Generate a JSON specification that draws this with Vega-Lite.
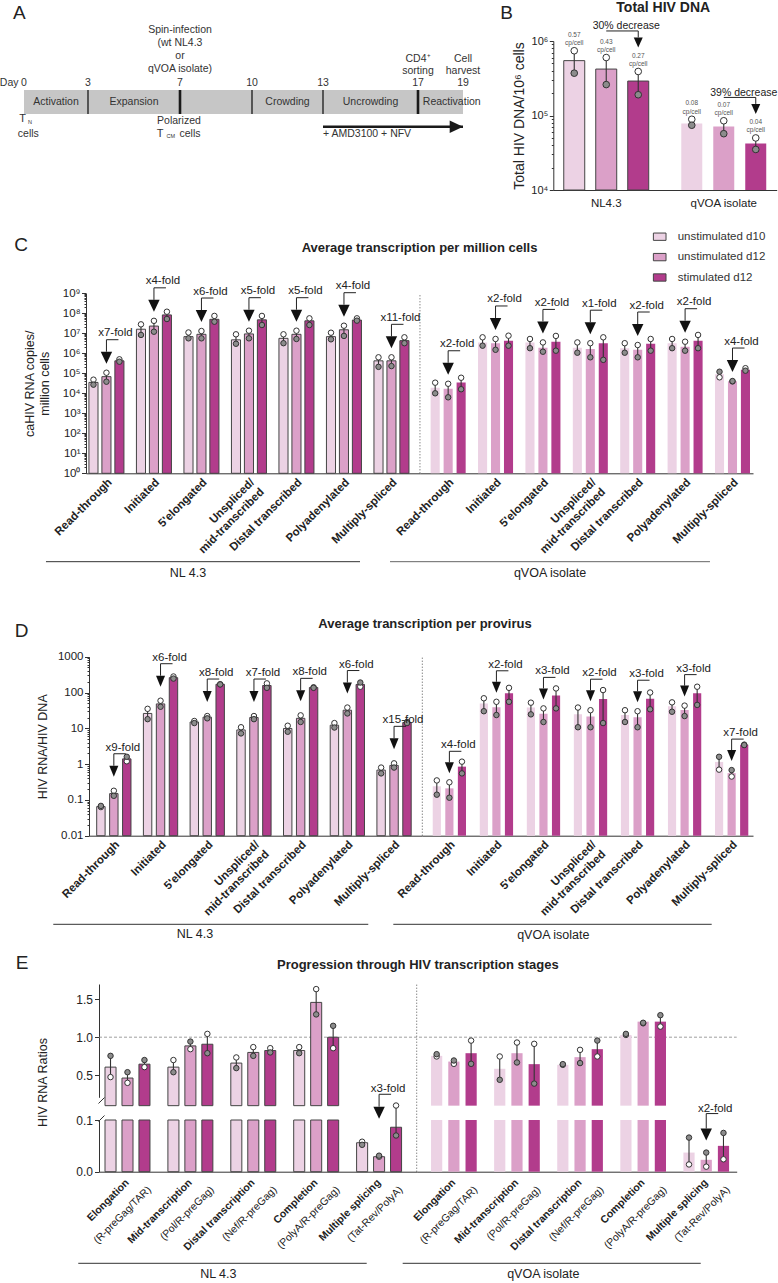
{
"$schema":"https://vega.github.io/schema/vega-lite/v6.json",
"width":778,"height":1283,"autosize":{"type":"none"},"padding":0,"background":"#ffffff",
"config":{"font":"Liberation Sans","view":{"stroke":null},"axis":{"grid":false,"labelFont":"Liberation Sans","titleFont":"Liberation Sans","domainColor":"#333333","tickColor":"#333333","labelColor":"#222222","titleColor":"#222222"},"legend":{"labelFont":"Liberation Sans"}},
"resolve":{"scale":{"x":"independent","y":"independent","xOffset":"independent"}},
"datasets":{
"b":[
{"iso":"NL4.3","cond":"unstimulated d10","m":545000,"d1":740000,"d2":370000,"lab":"0.57\ncp/cell"},
{"iso":"NL4.3","cond":"unstimulated d12","m":420000,"d1":600000,"d2":260000,"lab":"0.43\ncp/cell"},
{"iso":"NL4.3","cond":"stimulated d12","m":290000,"d1":390000,"d2":190000,"lab":"0.27\ncp/cell","f":"30% decrease"},
{"iso":"qVOA isolate","cond":"unstimulated d10","m":78000,"d1":89000,"d2":74000,"lab":"0.08\ncp/cell"},
{"iso":"qVOA isolate","cond":"unstimulated d12","m":71000,"d1":85000,"d2":57000,"lab":"0.07\ncp/cell"},
{"iso":"qVOA isolate","cond":"stimulated d12","m":42000,"d1":50000,"d2":35000,"lab":"0.04\ncp/cell","f":"39% decrease"}
],
"c":[
{"iso":"NL","cat":"Read-through","cond":"unstimulated d10","m":35000,"d1":48000,"d2":27000},
{"iso":"NL","cat":"Read-through","cond":"unstimulated d12","m":68000,"d1":107000,"d2":38000,"f":"x7-fold"},
{"iso":"NL","cat":"Read-through","cond":"stimulated d12","m":420000,"d1":500000,"d2":380000},
{"iso":"NL","cat":"Initiated","cond":"unstimulated d10","m":16000000,"d1":28000000,"d2":8300000},
{"iso":"NL","cat":"Initiated","cond":"unstimulated d12","m":23000000,"d1":42000000,"d2":12000000,"f":"x4-fold"},
{"iso":"NL","cat":"Initiated","cond":"stimulated d12","m":83000000,"d1":120000000,"d2":52000000},
{"iso":"NL","cat":"5'elongated","cond":"unstimulated d10","m":6800000,"d1":11000000,"d2":5600000},
{"iso":"NL","cat":"5'elongated","cond":"unstimulated d12","m":8900000,"d1":13000000,"d2":5600000,"f":"x6-fold"},
{"iso":"NL","cat":"5'elongated","cond":"stimulated d12","m":50000000,"d1":74000000,"d2":38000000},
{"iso":"NL","cat":"Unspliced/mid-transcribed","cond":"unstimulated d10","m":4700000,"d1":8900000,"d2":3000000},
{"iso":"NL","cat":"Unspliced/mid-transcribed","cond":"unstimulated d12","m":9300000,"d1":13500000,"d2":5600000,"f":"x5-fold"},
{"iso":"NL","cat":"Unspliced/mid-transcribed","cond":"stimulated d12","m":47000000,"d1":74000000,"d2":26000000},
{"iso":"NL","cat":"Distal transcribed","cond":"unstimulated d10","m":5600000,"d1":8900000,"d2":3200000},
{"iso":"NL","cat":"Distal transcribed","cond":"unstimulated d12","m":8900000,"d1":13500000,"d2":5200000,"f":"x5-fold"},
{"iso":"NL","cat":"Distal transcribed","cond":"stimulated d12","m":42000000,"d1":56000000,"d2":26000000},
{"iso":"NL","cat":"Polyadenylated","cond":"unstimulated d10","m":6800000,"d1":10700000,"d2":5000000},
{"iso":"NL","cat":"Polyadenylated","cond":"unstimulated d12","m":15000000,"d1":24000000,"d2":7400000,"f":"x4-fold"},
{"iso":"NL","cat":"Polyadenylated","cond":"stimulated d12","m":46000000,"d1":56000000,"d2":43000000},
{"iso":"NL","cat":"Multiply-spliced","cond":"unstimulated d10","m":420000,"d1":630000,"d2":210000},
{"iso":"NL","cat":"Multiply-spliced","cond":"unstimulated d12","m":420000,"d1":630000,"d2":230000,"f":"x11-fold"},
{"iso":"NL","cat":"Multiply-spliced","cond":"stimulated d12","m":4300000,"d1":6300000,"d2":3200000},
{"iso":"qVOA","cat":"Read-through","cond":"unstimulated d10","m":19000,"d1":34000,"d2":10000},
{"iso":"qVOA","cat":"Read-through","cond":"unstimulated d12","m":17000,"d1":30000,"d2":6300,"f":"x2-fold"},
{"iso":"qVOA","cat":"Read-through","cond":"stimulated d12","m":35000,"d1":60000,"d2":16000},
{"iso":"qVOA","cat":"Initiated","cond":"unstimulated d10","m":3500000,"d1":6300000,"d2":2400000},
{"iso":"qVOA","cat":"Initiated","cond":"unstimulated d12","m":3200000,"d1":5200000,"d2":1500000,"f":"x2-fold"},
{"iso":"qVOA","cat":"Initiated","cond":"stimulated d12","m":4300000,"d1":7600000,"d2":2400000},
{"iso":"qVOA","cat":"5'elongated","cond":"unstimulated d10","m":3500000,"d1":5200000,"d2":1800000},
{"iso":"qVOA","cat":"5'elongated","cond":"unstimulated d12","m":1900000,"d1":3500000,"d2":1200000,"f":"x2-fold"},
{"iso":"qVOA","cat":"5'elongated","cond":"stimulated d12","m":3800000,"d1":7400000,"d2":1350000},
{"iso":"qVOA","cat":"Unspliced/mid-transcribed","cond":"unstimulated d10","m":1900000,"d1":3500000,"d2":1070000},
{"iso":"qVOA","cat":"Unspliced/mid-transcribed","cond":"unstimulated d12","m":1660000,"d1":3200000,"d2":630000,"f":"x1-fold"},
{"iso":"qVOA","cat":"Unspliced/mid-transcribed","cond":"stimulated d12","m":3200000,"d1":6300000,"d2":470000},
{"iso":"qVOA","cat":"Distal transcribed","cond":"unstimulated d10","m":1800000,"d1":3200000,"d2":1070000},
{"iso":"qVOA","cat":"Distal transcribed","cond":"unstimulated d12","m":1500000,"d1":2600000,"d2":630000,"f":"x2-fold"},
{"iso":"qVOA","cat":"Distal transcribed","cond":"stimulated d12","m":3000000,"d1":5200000,"d2":1350000},
{"iso":"qVOA","cat":"Polyadenylated","cond":"unstimulated d10","m":3200000,"d1":5200000,"d2":1800000},
{"iso":"qVOA","cat":"Polyadenylated","cond":"unstimulated d12","m":2100000,"d1":3800000,"d2":1350000,"f":"x2-fold"},
{"iso":"qVOA","cat":"Polyadenylated","cond":"stimulated d12","m":4300000,"d1":8300000,"d2":1800000},
{"iso":"qVOA","cat":"Multiply-spliced","cond":"unstimulated d10","m":90000,"d1":63000,"d2":120000},
{"iso":"qVOA","cat":"Multiply-spliced","cond":"unstimulated d12","m":40000,"d1":39000,"d2":41000,"f":"x4-fold"},
{"iso":"qVOA","cat":"Multiply-spliced","cond":"stimulated d12","m":150000,"d1":180000,"d2":135000}
],
"d":[
{"iso":"NL","cat":"Read-through","cond":"unstimulated d10","m":0.065,"d1":0.063,"d2":0.068},
{"iso":"NL","cat":"Read-through","cond":"unstimulated d12","m":0.15,"d1":0.18,"d2":0.13,"f":"x9-fold"},
{"iso":"NL","cat":"Read-through","cond":"stimulated d12","m":1.4,"d1":1.2,"d2":1.6},
{"iso":"NL","cat":"Initiated","cond":"unstimulated d10","m":26,"d1":35,"d2":18},
{"iso":"NL","cat":"Initiated","cond":"unstimulated d12","m":48,"d1":59,"d2":40,"f":"x6-fold"},
{"iso":"NL","cat":"Initiated","cond":"stimulated d12","m":260,"d1":280,"d2":245},
{"iso":"NL","cat":"5'elongated","cond":"unstimulated d10","m":15,"d1":16,"d2":14},
{"iso":"NL","cat":"5'elongated","cond":"unstimulated d12","m":20.5,"d1":22,"d2":19,"f":"x8-fold"},
{"iso":"NL","cat":"5'elongated","cond":"stimulated d12","m":170,"d1":170,"d2":168},
{"iso":"NL","cat":"Unspliced/mid-transcribed","cond":"unstimulated d10","m":9,"d1":10.7,"d2":7.2},
{"iso":"NL","cat":"Unspliced/mid-transcribed","cond":"unstimulated d12","m":20,"d1":22,"d2":18,"f":"x7-fold"},
{"iso":"NL","cat":"Unspliced/mid-transcribed","cond":"stimulated d12","m":157,"d1":180,"d2":135},
{"iso":"NL","cat":"Distal transcribed","cond":"unstimulated d10","m":9.9,"d1":11.8,"d2":8},
{"iso":"NL","cat":"Distal transcribed","cond":"unstimulated d12","m":19,"d1":23,"d2":15,"f":"x8-fold"},
{"iso":"NL","cat":"Distal transcribed","cond":"stimulated d12","m":138,"d1":140,"d2":135},
{"iso":"NL","cat":"Polyadenylated","cond":"unstimulated d10","m":12.2,"d1":14,"d2":10.5},
{"iso":"NL","cat":"Polyadenylated","cond":"unstimulated d12","m":32,"d1":38,"d2":26,"f":"x6-fold"},
{"iso":"NL","cat":"Polyadenylated","cond":"stimulated d12","m":168,"d1":145,"d2":190},
{"iso":"NL","cat":"Multiply-spliced","cond":"unstimulated d10","m":0.68,"d1":0.8,"d2":0.55},
{"iso":"NL","cat":"Multiply-spliced","cond":"unstimulated d12","m":0.92,"d1":1.05,"d2":0.8,"f":"x15-fold"},
{"iso":"NL","cat":"Multiply-spliced","cond":"stimulated d12","m":14.5,"d1":15,"d2":14},
{"iso":"qVOA","cat":"Read-through","cond":"unstimulated d10","m":0.24,"d1":0.35,"d2":0.14},
{"iso":"qVOA","cat":"Read-through","cond":"unstimulated d12","m":0.21,"d1":0.31,"d2":0.115,"f":"x4-fold"},
{"iso":"qVOA","cat":"Read-through","cond":"stimulated d12","m":0.85,"d1":1.17,"d2":0.55},
{"iso":"qVOA","cat":"Initiated","cond":"unstimulated d10","m":49,"d1":69,"d2":30},
{"iso":"qVOA","cat":"Initiated","cond":"unstimulated d12","m":39,"d1":55,"d2":23.5,"f":"x2-fold"},
{"iso":"qVOA","cat":"Initiated","cond":"stimulated d12","m":95,"d1":135,"d2":55},
{"iso":"qVOA","cat":"5'elongated","cond":"unstimulated d10","m":38,"d1":52,"d2":24.5},
{"iso":"qVOA","cat":"5'elongated","cond":"unstimulated d12","m":25.5,"d1":36,"d2":15,"f":"x3-fold"},
{"iso":"qVOA","cat":"5'elongated","cond":"stimulated d12","m":83,"d1":130,"d2":36},
{"iso":"qVOA","cat":"Unspliced/mid-transcribed","cond":"unstimulated d10","m":24.5,"d1":38,"d2":10.7},
{"iso":"qVOA","cat":"Unspliced/mid-transcribed","cond":"unstimulated d12","m":21.5,"d1":32,"d2":10.7,"f":"x2-fold"},
{"iso":"qVOA","cat":"Unspliced/mid-transcribed","cond":"stimulated d12","m":66,"d1":117,"d2":14},
{"iso":"qVOA","cat":"Distal transcribed","cond":"unstimulated d10","m":23.5,"d1":32,"d2":15},
{"iso":"qVOA","cat":"Distal transcribed","cond":"unstimulated d12","m":20.5,"d1":30,"d2":10.7,"f":"x3-fold"},
{"iso":"qVOA","cat":"Distal transcribed","cond":"stimulated d12","m":67,"d1":100,"d2":34},
{"iso":"qVOA","cat":"Polyadenylated","cond":"unstimulated d10","m":41,"d1":53,"d2":29},
{"iso":"qVOA","cat":"Polyadenylated","cond":"unstimulated d12","m":32.5,"d1":43,"d2":22,"f":"x3-fold"},
{"iso":"qVOA","cat":"Polyadenylated","cond":"stimulated d12","m":95,"d1":145,"d2":45},
{"iso":"qVOA","cat":"Multiply-spliced","cond":"unstimulated d10","m":1.15,"d1":0.7,"d2":1.6},
{"iso":"qVOA","cat":"Multiply-spliced","cond":"unstimulated d12","m":0.56,"d1":0.45,"d2":0.68,"f":"x7-fold"},
{"iso":"qVOA","cat":"Multiply-spliced","cond":"stimulated d12","m":3.45,"d1":3.5,"d2":3.4}
],
"e":[
{"iso":"NL","cat":"Elongation","cond":"unstimulated d10","m":0.607,"d1":0.476,"d2":0.755},
{"iso":"NL","cat":"Elongation","cond":"unstimulated d12","m":0.463,"d1":0.4,"d2":0.54},
{"iso":"NL","cat":"Elongation","cond":"stimulated d12","m":0.646,"d1":0.607,"d2":0.7},
{"iso":"NL","cat":"Mid-transcription","cond":"unstimulated d10","m":0.607,"d1":0.7,"d2":0.54},
{"iso":"NL","cat":"Mid-transcription","cond":"unstimulated d12","m":0.886,"d1":0.843,"d2":0.943},
{"iso":"NL","cat":"Mid-transcription","cond":"stimulated d12","m":0.908,"d1":1.044,"d2":0.79},
{"iso":"NL","cat":"Distal transcription","cond":"unstimulated d10","m":0.66,"d1":0.734,"d2":0.594},
{"iso":"NL","cat":"Distal transcription","cond":"unstimulated d12","m":0.8,"d1":0.87,"d2":0.755},
{"iso":"NL","cat":"Distal transcription","cond":"stimulated d12","m":0.825,"d1":0.856,"d2":0.8},
{"iso":"NL","cat":"Completion","cond":"unstimulated d10","m":0.825,"d1":0.87,"d2":0.79},
{"iso":"NL","cat":"Completion","cond":"unstimulated d12","m":1.458,"d1":1.633,"d2":1.3},
{"iso":"NL","cat":"Completion","cond":"stimulated d12","m":1.0,"d1":0.856,"d2":1.15},
{"iso":"NL","cat":"Multiple splicing","cond":"unstimulated d10","m":0.056,"d1":0.058,"d2":0.052},
{"iso":"NL","cat":"Multiple splicing","cond":"unstimulated d12","m":0.029,"d1":0.029,"d2":0.031,"f":"x3-fold"},
{"iso":"NL","cat":"Multiple splicing","cond":"stimulated d12","m":0.086,"d1":0.128,"d2":0.07},
{"iso":"qVOA","cat":"Elongation","cond":"unstimulated d10","m":0.755,"d1":0.747,"d2":0.777},
{"iso":"qVOA","cat":"Elongation","cond":"unstimulated d12","m":0.68,"d1":0.65,"d2":0.694},
{"iso":"qVOA","cat":"Elongation","cond":"stimulated d12","m":0.79,"d1":0.956,"d2":0.65},
{"iso":"qVOA","cat":"Mid-transcription","cond":"unstimulated d10","m":0.585,"d1":0.747,"d2":0.44},
{"iso":"qVOA","cat":"Mid-transcription","cond":"unstimulated d12","m":0.79,"d1":0.93,"d2":0.668},
{"iso":"qVOA","cat":"Mid-transcription","cond":"stimulated d12","m":0.646,"d1":0.913,"d2":0.39},
{"iso":"qVOA","cat":"Distal transcription","cond":"unstimulated d10","m":0.637,"d1":0.637,"d2":0.646},
{"iso":"qVOA","cat":"Distal transcription","cond":"unstimulated d12","m":0.738,"d1":0.834,"d2":0.66},
{"iso":"qVOA","cat":"Distal transcription","cond":"stimulated d12","m":0.843,"d1":0.747,"d2":0.956},
{"iso":"qVOA","cat":"Completion","cond":"unstimulated d10","m":1.03,"d1":1.03,"d2":1.044},
{"iso":"qVOA","cat":"Completion","cond":"unstimulated d12","m":1.205,"d1":1.183,"d2":1.19},
{"iso":"qVOA","cat":"Completion","cond":"stimulated d12","m":1.205,"d1":1.14,"d2":1.29},
{"iso":"qVOA","cat":"Multiple splicing","cond":"unstimulated d10","m":0.037,"d1":0.014,"d2":0.066},
{"iso":"qVOA","cat":"Multiple splicing","cond":"unstimulated d12","m":0.023,"d1":0.0097,"d2":0.037,"f":"x2-fold"},
{"iso":"qVOA","cat":"Multiple splicing","cond":"stimulated d12","m":0.05,"d1":0.024,"d2":0.075}
]
},
"layer":[
{"layer":[
 {"data":{"values":[{"phase":"Activation","start":0,"end":3,"mid":1.5},{"phase":"Expansion","start":3,"end":7,"mid":5},{"phase":"","start":7,"end":10,"mid":8.5},{"phase":"Crowding","start":10,"end":13,"mid":11.5},{"phase":"Uncrowding","start":13,"end":17,"mid":15},{"phase":"Reactivation","start":17,"end":19,"mid":18.5}]},
  "layer":[
   {"mark":{"type":"rect","fill":"#c6c6c6"},"encoding":{"x":{"field":"start","type":"quantitative","scale":{"type":"linear","domain":[0,3,7,10,13,17,19],"range":[24,88,180,252,323,418,463],"nice":false,"zero":false},"axis":null},"x2":{"field":"end"},"y":{"datum":6,"type":"quantitative","scale":{"type":"linear","domain":[0,10],"range":[0,150],"nice":false,"zero":false},"axis":null},"y2":{"datum":7.6}}},
   {"transform":[{"filter":"datum.start > 0"}],"mark":{"type":"rule","color":"#1a1a1a"},"encoding":{"x":{"field":"start","type":"quantitative","scale":{"type":"linear","domain":[0,3,7,10,13,17,19],"range":[24,88,180,252,323,418,463],"nice":false,"zero":false},"axis":null},"y":{"datum":6,"type":"quantitative","scale":{"type":"linear","domain":[0,10],"range":[0,150],"nice":false,"zero":false},"axis":null},"y2":{"datum":7.6},"strokeWidth":{"condition":{"test":"datum.start == 7 || datum.start == 17","value":2.6},"value":1.3}}},
   {"mark":{"type":"text","fontSize":10.5,"color":"#333333","baseline":"middle"},"encoding":{"x":{"field":"mid","type":"quantitative","scale":{"type":"linear","domain":[0,3,7,10,13,17,19],"range":[24,88,180,252,323,418,463],"nice":false,"zero":false},"axis":null},"y":{"datum":6.82,"type":"quantitative","scale":{"type":"linear","domain":[0,10],"range":[0,150],"nice":false,"zero":false},"axis":null},"text":{"field":"phase"}}}
  ]},
 {"data":{"values":[{"day":0},{"day":3},{"day":7},{"day":10},{"day":13},{"day":17},{"day":19}]},"mark":{"type":"text","fontSize":10.5,"color":"#333333","baseline":"middle"},"encoding":{"x":{"field":"day","type":"quantitative","scale":{"type":"linear","domain":[0,3,7,10,13,17,19],"range":[24,88,180,252,323,418,463],"nice":false,"zero":false},"axis":null},"y":{"datum":5.555,"type":"quantitative","scale":{"type":"linear","domain":[0,10],"range":[0,150],"nice":false,"zero":false},"axis":null},"text":{"field":"day","type":"quantitative"}}},
 {"data":{"values":[{"t":"Day","day":0}]},"mark":{"type":"text","fontSize":10.5,"color":"#333333","baseline":"middle","align":"right","dx":-5.5},"encoding":{"x":{"field":"day","type":"quantitative","scale":{"type":"linear","domain":[0,3,7,10,13,17,19],"range":[24,88,180,252,323,418,463],"nice":false,"zero":false},"axis":null},"y":{"datum":5.555,"type":"quantitative","scale":{"type":"linear","domain":[0,10],"range":[0,150],"nice":false,"zero":false},"axis":null},"text":{"field":"t"}}},
 {"data":{"values":[{"day":7,"t":"Spin-infection\n(wt NL4.3\nor\nqVOA isolate)"}]},"mark":{"type":"text","fontSize":10.5,"color":"#333333","baseline":"top","lineBreak":"\n","lineHeight":13.1},"encoding":{"x":{"field":"day","type":"quantitative","scale":{"type":"linear","domain":[0,3,7,10,13,17,19],"range":[24,88,180,252,323,418,463],"nice":false,"zero":false},"axis":null},"y":{"datum":1.66,"type":"quantitative","scale":{"type":"linear","domain":[0,10],"range":[0,150],"nice":false,"zero":false},"axis":null},"text":{"field":"t"}}},
 {"data":{"values":[{"day":17,"t":"CD4⁺\nsorting"},{"day":19,"t":"Cell\nharvest"}]},"mark":{"type":"text","fontSize":10.5,"color":"#333333","baseline":"top","lineBreak":"\n","lineHeight":12.8},"encoding":{"x":{"field":"day","type":"quantitative","scale":{"type":"linear","domain":[0,3,7,10,13,17,19],"range":[24,88,180,252,323,418,463],"nice":false,"zero":false},"axis":null},"y":{"datum":3.58,"type":"quantitative","scale":{"type":"linear","domain":[0,10],"range":[0,150],"nice":false,"zero":false},"axis":null},"text":{"field":"t"}}},
 {"data":{"values":[{"day":0,"t":"T"}]},"mark":{"type":"text","fontSize":11,"color":"#333333","baseline":"middle","dx":-1.5},"encoding":{"x":{"field":"day","type":"quantitative","scale":{"type":"linear","domain":[0,3,7,10,13,17,19],"range":[24,88,180,252,323,418,463],"nice":false,"zero":false},"axis":null},"y":{"datum":7.93,"type":"quantitative","scale":{"type":"linear","domain":[0,10],"range":[0,150],"nice":false,"zero":false},"axis":null},"text":{"field":"t"}}},
 {"data":{"values":[{"day":0,"t":"N"}]},"mark":{"type":"text","fontSize":5.5,"color":"#333333","baseline":"middle","dx":6},"encoding":{"x":{"field":"day","type":"quantitative","scale":{"type":"linear","domain":[0,3,7,10,13,17,19],"range":[24,88,180,252,323,418,463],"nice":false,"zero":false},"axis":null},"y":{"datum":8.1,"type":"quantitative","scale":{"type":"linear","domain":[0,10],"range":[0,150],"nice":false,"zero":false},"axis":null},"text":{"field":"t"}}},
 {"data":{"values":[{"day":0,"t":"cells"}]},"mark":{"type":"text","fontSize":10.5,"color":"#333333","baseline":"middle","dx":4.3},"encoding":{"x":{"field":"day","type":"quantitative","scale":{"type":"linear","domain":[0,3,7,10,13,17,19],"range":[24,88,180,252,323,418,463],"nice":false,"zero":false},"axis":null},"y":{"datum":8.93,"type":"quantitative","scale":{"type":"linear","domain":[0,10],"range":[0,150],"nice":false,"zero":false},"axis":null},"text":{"field":"t"}}},
 {"data":{"values":[{"day":7,"t":"Polarized"}]},"mark":{"type":"text","fontSize":10.5,"color":"#333333","baseline":"middle","dx":-1},"encoding":{"x":{"field":"day","type":"quantitative","scale":{"type":"linear","domain":[0,3,7,10,13,17,19],"range":[24,88,180,252,323,418,463],"nice":false,"zero":false},"axis":null},"y":{"datum":8.07,"type":"quantitative","scale":{"type":"linear","domain":[0,10],"range":[0,150],"nice":false,"zero":false},"axis":null},"text":{"field":"t"}}},
 {"data":{"values":[{"day":7,"t":"T"}]},"mark":{"type":"text","fontSize":11,"color":"#333333","baseline":"middle","dx":-20},"encoding":{"x":{"field":"day","type":"quantitative","scale":{"type":"linear","domain":[0,3,7,10,13,17,19],"range":[24,88,180,252,323,418,463],"nice":false,"zero":false},"axis":null},"y":{"datum":8.93,"type":"quantitative","scale":{"type":"linear","domain":[0,10],"range":[0,150],"nice":false,"zero":false},"axis":null},"text":{"field":"t"}}},
 {"data":{"values":[{"day":7,"t":"CM"}]},"mark":{"type":"text","fontSize":5.5,"color":"#333333","baseline":"middle","dx":-9.2,"dy":2},"encoding":{"x":{"field":"day","type":"quantitative","scale":{"type":"linear","domain":[0,3,7,10,13,17,19],"range":[24,88,180,252,323,418,463],"nice":false,"zero":false},"axis":null},"y":{"datum":8.93,"type":"quantitative","scale":{"type":"linear","domain":[0,10],"range":[0,150],"nice":false,"zero":false},"axis":null},"text":{"field":"t"}}},
 {"data":{"values":[{"day":7,"t":"cells"}]},"mark":{"type":"text","fontSize":10.5,"color":"#333333","baseline":"middle","dx":10},"encoding":{"x":{"field":"day","type":"quantitative","scale":{"type":"linear","domain":[0,3,7,10,13,17,19],"range":[24,88,180,252,323,418,463],"nice":false,"zero":false},"axis":null},"y":{"datum":8.93,"type":"quantitative","scale":{"type":"linear","domain":[0,10],"range":[0,150],"nice":false,"zero":false},"axis":null},"text":{"field":"t"}}},
 {"data":{"values":[{"day":13,"t":"+ AMD3100 + NFV"}]},"mark":{"type":"text","fontSize":10.5,"color":"#333333","baseline":"middle","align":"left"},"encoding":{"x":{"field":"day","type":"quantitative","scale":{"type":"linear","domain":[0,3,7,10,13,17,19],"range":[24,88,180,252,323,418,463],"nice":false,"zero":false},"axis":null},"y":{"datum":8.93,"type":"quantitative","scale":{"type":"linear","domain":[0,10],"range":[0,150],"nice":false,"zero":false},"axis":null},"text":{"field":"t"}}},
 {"data":{"values":[{"start":13,"end":19}]},"layer":[
  {"mark":{"type":"rule","color":"#1a1a1a","strokeWidth":2.4},"encoding":{"x":{"field":"start","type":"quantitative","scale":{"type":"linear","domain":[0,3,7,10,13,17,19],"range":[24,88,180,252,323,418,463],"nice":false,"zero":false},"axis":null},"x2":{"field":"end"},"y":{"datum":8.447,"type":"quantitative","scale":{"type":"linear","domain":[0,10],"range":[0,150],"nice":false,"zero":false},"axis":null}}},
  {"mark":{"type":"point","shape":"M-1,-0.95L1,0L-1,0.95Z","size":177,"filled":true,"color":"#1a1a1a","opacity":1,"xOffset":-6.65},"encoding":{"x":{"field":"end","type":"quantitative","scale":{"type":"linear","domain":[0,3,7,10,13,17,19],"range":[24,88,180,252,323,418,463],"nice":false,"zero":false},"axis":null},"y":{"datum":8.447,"type":"quantitative","scale":{"type":"linear","domain":[0,10],"range":[0,150],"nice":false,"zero":false},"axis":null}}}
 ]},
 {"data":{"values":[{"t":"A"}]},"mark":{"type":"text","fontSize":19,"color":"#222222","baseline":"middle"},"encoding":{"x":{"datum":-0.22,"type":"quantitative","scale":{"type":"linear","domain":[0,3,7,10,13,17,19],"range":[24,88,180,252,323,418,463],"nice":false,"zero":false},"axis":null},"y":{"datum":0.89,"type":"quantitative","scale":{"type":"linear","domain":[0,10],"range":[0,150],"nice":false,"zero":false},"axis":null},"text":{"field":"t"}}},
 {"data":{"values":[{"t":"B"}]},"mark":{"type":"text","fontSize":19,"color":"#222222","baseline":"middle"},"encoding":{"x":{"datum":20.94,"type":"quantitative","scale":{"type":"linear","domain":[0,3,7,10,13,17,19],"range":[24,88,180,252,323,418,463],"nice":false,"zero":false},"axis":null},"y":{"datum":0.86,"type":"quantitative","scale":{"type":"linear","domain":[0,10],"range":[0,150],"nice":false,"zero":false},"axis":null},"text":{"field":"t"}}},
 {"data":{"values":[{"t":"Total HIV DNA"}]},"mark":{"type":"text","fontSize":14,"fontWeight":"bold","color":"#222222","baseline":"middle"},"encoding":{"x":{"datum":27.9,"type":"quantitative","scale":{"type":"linear","domain":[0,3,7,10,13,17,19],"range":[24,88,180,252,323,418,463],"nice":false,"zero":false},"axis":null},"y":{"datum":0.56,"type":"quantitative","scale":{"type":"linear","domain":[0,10],"range":[0,150],"nice":false,"zero":false},"axis":null},"text":{"field":"t"}}}
]},
{"data":{"name":"b"},
 "layer":[
 {"transform":[{"filter":"datum.iso == 'NL4.3'"}],"mark":{"type":"bar","stroke":"#444444","strokeWidth":1},"encoding":{
   "x":{"field":"iso","type":"nominal","sort":null,"scale":{"type":"band","domain":["NL4.3","qVOA isolate"],"range":[553.3,776.7],"paddingInner":0.277,"paddingOuter":0.089},"axis":{"orient":"bottom","offset":-1093,"ticks":false,"tickSize":0,"labelPadding":7,"labelFontSize":11.5,"labelAngle":0,"labelBaseline":"top","labelAlign":"center","title":null,"domainColor":"#333333","labelColor":"#222222"}},
   "xOffset":{"field":"cond","type":"nominal","sort":null,"scale":{"type":"band","domain":["unstimulated d10","unstimulated d12","stimulated d12"],"paddingInner":0.344,"paddingOuter":0}},
   "y":{"field":"m","type":"quantitative","scale":{"type":"log","domain":[10000,1000000],"range":[190,41],"nice":false},"axis":{"orient":"left","offset":-553.3,"values":[10000,20000,30000,40000,50000,60000,70000,80000,90000,100000,200000,300000,400000,500000,600000,700000,800000,900000,1000000],"labelExpr":"abs(log(datum.value)/LN10 - round(log(datum.value)/LN10)) > 0.01 ? '' : '10' + ['⁰','¹','²','³','⁴','⁵','⁶','⁷','⁸','⁹'][round(log(datum.value)/LN10)]","tickSize":{"condition":{"test":"abs(log(datum.value)/LN10 - round(log(datum.value)/LN10)) > 0.01","value":2},"value":4},"labelPadding":1.5,"labelFontSize":11,"labelOverlap":false,"labelBound":false,"labelFlush":false,"title":"Total HIV DNA/10⁶ cells","titleFontSize":14,"titleFontWeight":"normal","titlePadding":4,"minExtent":23,"maxExtent":23}},
   "y2":{"datum":10000},
   "fill":{"field":"cond","type":"nominal","sort":null,"scale":{"domain":["unstimulated d10","unstimulated d12","stimulated d12"],"range":["#ecd2e4","#dba0c8","#b23c8c"]}}}},
 {"transform":[{"filter":"datum.iso != 'NL4.3'"}],"mark":{"type":"bar"},"encoding":{
   "x":{"field":"iso","type":"nominal","sort":null,"scale":{"type":"band","domain":["NL4.3","qVOA isolate"],"range":[553.3,776.7],"paddingInner":0.277,"paddingOuter":0.089}},
   "xOffset":{"field":"cond","type":"nominal","sort":null,"scale":{"type":"band","domain":["unstimulated d10","unstimulated d12","stimulated d12"],"paddingInner":0.344,"paddingOuter":0}},
   "y":{"field":"m","type":"quantitative","scale":{"type":"log","domain":[10000,1000000],"range":[190,41],"nice":false}},
   "y2":{"datum":10000},
   "fill":{"field":"cond","type":"nominal","sort":null,"scale":{"domain":["unstimulated d10","unstimulated d12","stimulated d12"],"range":["#ecd2e4","#dba0c8","#b23c8c"]}}}},
 {"mark":{"type":"rule","color":"#333333","strokeWidth":1.1},"encoding":{
   "x":{"field":"iso","type":"nominal","sort":null,"scale":{"type":"band","domain":["NL4.3","qVOA isolate"],"range":[553.3,776.7],"paddingInner":0.277,"paddingOuter":0.089}},
   "xOffset":{"field":"cond","type":"nominal","sort":null,"scale":{"type":"band","domain":["unstimulated d10","unstimulated d12","stimulated d12"],"paddingInner":0.344,"paddingOuter":0}},
   "y":{"field":"d1","type":"quantitative","scale":{"type":"log","domain":[10000,1000000],"range":[190,41],"nice":false}},"y2":{"field":"d2"}}},
 {"transform":[{"fold":["d1","d2"],"as":["donor","v"]}],"mark":{"type":"point","filled":true,"size":44,"stroke":"#333333","strokeWidth":1,"opacity":1},"encoding":{
   "x":{"field":"iso","type":"nominal","sort":null,"scale":{"type":"band","domain":["NL4.3","qVOA isolate"],"range":[553.3,776.7],"paddingInner":0.277,"paddingOuter":0.089}},
   "xOffset":{"field":"cond","type":"nominal","sort":null,"scale":{"type":"band","domain":["unstimulated d10","unstimulated d12","stimulated d12"],"paddingInner":0.344,"paddingOuter":0}},
   "y":{"field":"v","type":"quantitative","scale":{"type":"log","domain":[10000,1000000],"range":[190,41],"nice":false}},
   "fill":{"condition":{"test":"datum.donor == 'd1'","value":"#ffffff"},"value":"#8c8c8c"}}},
 {"transform":[{"fold":["d1","d2"],"as":["donor","v"]},{"aggregate":[{"op":"max","field":"v","as":"hi"}],"groupby":["iso","cond","lab"]}],"mark":{"type":"text","lineBreak":"\n","lineHeight":8.4,"fontSize":6.5,"color":"#555555","baseline":"bottom","dy":-12.9},"encoding":{
   "x":{"field":"iso","type":"nominal","sort":null,"scale":{"type":"band","domain":["NL4.3","qVOA isolate"],"range":[553.3,776.7],"paddingInner":0.277,"paddingOuter":0.089}},
   "xOffset":{"field":"cond","type":"nominal","sort":null,"scale":{"type":"band","domain":["unstimulated d10","unstimulated d12","stimulated d12"],"paddingInner":0.344,"paddingOuter":0}},
   "y":{"field":"hi","type":"quantitative","scale":{"type":"log","domain":[10000,1000000],"range":[190,41],"nice":false}},
   "text":{"field":"lab"}}},
 {"transform":[{"filter":"isValid(datum.f)"},{"fold":["d1","d2"],"as":["donor","v"]},{"aggregate":[{"op":"max","field":"v","as":"hi"}],"groupby":["iso","f"]}],
  "encoding":{"x":{"field":"iso","type":"nominal","sort":null,"scale":{"type":"band","domain":["NL4.3","qVOA isolate"],"range":[553.3,776.7],"paddingInner":0.277,"paddingOuter":0.089}},"y":{"field":"hi","type":"quantitative","scale":{"type":"log","domain":[10000,1000000],"range":[190,41],"nice":false}}},
  "layer":[
   {"mark":{"type":"text","dx":20,"dy":-42,"baseline":"alphabetic","fontSize":10.5,"color":"#222222"},"encoding":{"text":{"field":"f"}}},
   {"mark":{"type":"rule","x2Offset":32,"yOffset":-40.5,"color":"#222222","strokeWidth":1},"encoding":{"x2":{"field":"iso"}}},
   {"mark":{"type":"rule","xOffset":32,"yOffset":-40.5,"y2Offset":-34,"color":"#222222","strokeWidth":1},"encoding":{"y2":{"field":"hi"}}},
   {"mark":{"type":"point","shape":"M-0.9,-1L0.9,-1L0,1Z","size":100,"filled":true,"color":"#111111","opacity":1,"xOffset":32,"yOffset":-29},"encoding":{}}
  ]}
 ]},
{"layer":[
 {"data":{"values":[{"t":"C"}]},"mark":{"type":"text","fontSize":19,"color":"#222222","baseline":"middle","align":"center"},"encoding":{"x":{"datum":-9.745,"type":"quantitative","scale":{"type":"linear","domain":[0,100],"range":[86,753],"nice":false,"zero":false},"axis":null},"y":{"datum":126.6,"type":"quantitative","scale":{"type":"linear","domain":[0,100],"range":[473.3,293.3],"nice":false,"zero":false},"axis":null},"text":{"field":"t"}}},
 {"data":{"values":[{"t":"Average transcription per million cells"}]},"mark":{"type":"text","fontSize":13,"fontWeight":"bold","color":"#222222","baseline":"middle","align":"center"},"encoding":{"x":{"datum":50,"type":"quantitative","scale":{"type":"linear","domain":[0,100],"range":[86,753],"nice":false,"zero":false},"axis":null},"y":{"datum":125.0,"type":"quantitative","scale":{"type":"linear","domain":[0,100],"range":[473.3,293.3],"nice":false,"zero":false},"axis":null},"text":{"field":"t"}}},
 {"data":{"values":[{"t":"separator"}]},"mark":{"type":"rule","color":"#555555","strokeDash":[1,2],"strokeWidth":1},"encoding":{"x":{"datum":50.07,"type":"quantitative","scale":{"type":"linear","domain":[0,100],"range":[86,753],"nice":false,"zero":false},"axis":null},"y":{"datum":0,"type":"quantitative","scale":{"type":"linear","domain":[0,100],"range":[473.3,293.3],"nice":false,"zero":false},"axis":null},"y2":{"datum":100}}},
 {"data":{"values":[{"t":"NL 4.3"}]},"layer":[
  {"mark":{"type":"rule","color":"#333333","strokeWidth":1},"encoding":{"x":{"datum":-6.0,"type":"quantitative","scale":{"type":"linear","domain":[0,100],"range":[86,753],"nice":false,"zero":false},"axis":null},"x2":{"datum":41.08},"y":{"datum":-49.1,"type":"quantitative","scale":{"type":"linear","domain":[0,100],"range":[473.3,293.3],"nice":false,"zero":false},"axis":null}}},
  {"mark":{"type":"text","fontSize":12.5,"color":"#222222","baseline":"middle","align":"center"},"encoding":{"x":{"datum":15.29,"type":"quantitative","scale":{"type":"linear","domain":[0,100],"range":[86,753],"nice":false,"zero":false},"axis":null},"y":{"datum":-55.2,"type":"quantitative","scale":{"type":"linear","domain":[0,100],"range":[473.3,293.3],"nice":false,"zero":false},"axis":null},"text":{"field":"t"}}}
 ]},
 {"data":{"values":[{"t":"qVOA isolate"}]},"layer":[
  {"mark":{"type":"rule","color":"#666666","strokeWidth":1},"encoding":{"x":{"datum":45.58,"type":"quantitative","scale":{"type":"linear","domain":[0,100],"range":[86,753],"nice":false,"zero":false},"axis":null},"x2":{"datum":93.55},"y":{"datum":-49.1,"type":"quantitative","scale":{"type":"linear","domain":[0,100],"range":[473.3,293.3],"nice":false,"zero":false},"axis":null}}},
  {"mark":{"type":"text","fontSize":12.5,"color":"#222222","baseline":"middle","align":"center"},"encoding":{"x":{"datum":69.57,"type":"quantitative","scale":{"type":"linear","domain":[0,100],"range":[86,753],"nice":false,"zero":false},"axis":null},"y":{"datum":-55.4,"type":"quantitative","scale":{"type":"linear","domain":[0,100],"range":[473.3,293.3],"nice":false,"zero":false},"axis":null},"text":{"field":"t"}}}
 ]}
]},
{"data":{"name":"c"},"transform":[{"filter":"datum.iso == 'NL'"}],
 "layer":[
 {"mark":{"type":"bar","stroke":"#444444","strokeWidth":1},"encoding":{
   "x":{"field":"cat","type":"nominal","sort":null,"scale":{"type":"band","domain":["Read-through","Initiated","5'elongated","Unspliced/mid-transcribed","Distal transcribed","Polyadenylated","Multiply-spliced"],"range":[86,420],"paddingInner":0.263,"paddingOuter":0.147,"align":0.21},"axis":{"orient":"bottom","offset":-809.7,"ticks":false,"tickSize":0,"labelAngle":-45,"labelAlign":"right","labelBaseline":"middle","labelFontWeight":"bold","labelFontSize":11.5,"labelColor":"#222222","labelPadding":7,"labelOffset":4,"labelExpr":"datum.label == 'Unspliced/mid-transcribed' ? ['Unspliced/', 'mid-transcribed'] : datum.label","labelOverlap":false,"labelBound":false,"labelFlush":false,"labelLimit":0,"title":null,"domainColor":"#333333"}},
   "xOffset":{"field":"cond","type":"nominal","sort":null,"scale":{"type":"band","domain":["unstimulated d10","unstimulated d12","stimulated d12"],"paddingInner":0.3,"paddingOuter":0}},
   "y":{"field":"m","type":"quantitative","scale":{"type":"log","domain":[1,1000000000],"range":[473.3,293.3],"nice":false},"axis":{"orient":"left","offset":-86,"values":[1,2,3,4,5,6,7,8,9,10,20,30,40,50,60,70,80,90,100,200,300,400,500,600,700,800,900,1000,2000,3000,4000,5000,6000,7000,8000,9000,10000,20000,30000,40000,50000,60000,70000,80000,90000,100000,200000,300000,400000,500000,600000,700000,800000,900000,1e6,2e6,3e6,4e6,5e6,6e6,7e6,8e6,9e6,1e7,2e7,3e7,4e7,5e7,6e7,7e7,8e7,9e7,1e8,2e8,3e8,4e8,5e8,6e8,7e8,8e8,9e8,1e9],"labelExpr":"abs(log(datum.value)/LN10 - round(log(datum.value)/LN10)) > 0.01 ? '' : '10' + ['⁰','¹','²','³','⁴','⁵','⁶','⁷','⁸','⁹'][round(log(datum.value)/LN10)]","tickSize":{"condition":{"test":"abs(log(datum.value)/LN10 - round(log(datum.value)/LN10)) > 0.01","value":2},"value":4.5},"labelPadding":1.5,"labelFontSize":11.5,"labelOverlap":false,"labelBound":false,"labelFlush":false,"title":["caHIV RNA copies/","million cells"],"titleFontSize":12.5,"titleFontWeight":"normal","titleLineHeight":15,"titlePadding":4.5,"minExtent":30,"maxExtent":30}},
   "y2":{"datum":1},
   "fill":{"field":"cond","type":"nominal","sort":null,"scale":{"domain":["unstimulated d10","unstimulated d12","stimulated d12"],"range":["#ecd2e4","#dba0c8","#b23c8c"]},"legend":{"orient":"none","legendX":652.7,"legendY":229.7,"title":null,"direction":"vertical","symbolType":"M-1,-0.58H1V0.58H-1Z","symbolSize":160,"symbolStrokeColor":"#444444","symbolStrokeWidth":1,"symbolOpacity":1,"labelFontSize":11.5,"labelColor":"#333333","labelOffset":11,"rowPadding":7.4,"padding":0,"offset":0}}}},
 {"mark":{"type":"rule","color":"#333333","strokeWidth":1.1},"encoding":{
   "x":{"field":"cat","type":"nominal","sort":null,"scale":{"type":"band","domain":["Read-through","Initiated","5'elongated","Unspliced/mid-transcribed","Distal transcribed","Polyadenylated","Multiply-spliced"],"range":[86,420],"paddingInner":0.263,"paddingOuter":0.147,"align":0.21}},
   "xOffset":{"field":"cond","type":"nominal","sort":null,"scale":{"type":"band","domain":["unstimulated d10","unstimulated d12","stimulated d12"],"paddingInner":0.3,"paddingOuter":0}},
   "y":{"field":"d1","type":"quantitative","scale":{"type":"log","domain":[1,1000000000],"range":[473.3,293.3],"nice":false}},"y2":{"field":"d2"}}},
 {"transform":[{"fold":["d1","d2"],"as":["donor","v"]}],"mark":{"type":"point","filled":true,"size":30,"stroke":"#333333","strokeWidth":1,"opacity":1},"encoding":{
   "x":{"field":"cat","type":"nominal","sort":null,"scale":{"type":"band","domain":["Read-through","Initiated","5'elongated","Unspliced/mid-transcribed","Distal transcribed","Polyadenylated","Multiply-spliced"],"range":[86,420],"paddingInner":0.263,"paddingOuter":0.147,"align":0.21}},
   "xOffset":{"field":"cond","type":"nominal","sort":null,"scale":{"type":"band","domain":["unstimulated d10","unstimulated d12","stimulated d12"],"paddingInner":0.3,"paddingOuter":0}},
   "y":{"field":"v","type":"quantitative","scale":{"type":"log","domain":[1,1000000000],"range":[473.3,293.3],"nice":false}},
   "fill":{"condition":{"test":"datum.donor == 'd1'","value":"#ffffff"},"value":"#8c8c8c"}}},
 {"transform":[{"filter":"isValid(datum.f)"},{"fold":["d1","d2"],"as":["donor","v"]},{"aggregate":[{"op":"max","field":"v","as":"hi"}],"groupby":["cat","f"]}],
  "encoding":{"x":{"field":"cat","type":"nominal","sort":null,"scale":{"type":"band","domain":["Read-through","Initiated","5'elongated","Unspliced/mid-transcribed","Distal transcribed","Polyadenylated","Multiply-spliced"],"range":[86,420],"paddingInner":0.263,"paddingOuter":0.147,"align":0.21}},"y":{"field":"hi","type":"quantitative","scale":{"type":"log","domain":[1,1000000000],"range":[473.3,293.3],"nice":false}}},
  "layer":[
   {"mark":{"type":"text","dx":9,"dy":-36.5,"baseline":"alphabetic","fontSize":11.5,"color":"#222222"},"encoding":{"text":{"field":"f"}}},
   {"mark":{"type":"rule","x2Offset":12,"yOffset":-33,"color":"#222222","strokeWidth":1},"encoding":{"x2":{"field":"cat"}}},
   {"mark":{"type":"rule","yOffset":-33,"y2Offset":-21,"color":"#222222","strokeWidth":1},"encoding":{"y2":{"field":"hi"}}},
   {"mark":{"type":"point","shape":"M-0.95,-1L0.95,-1L0,1Z","size":144,"filled":true,"color":"#111111","opacity":1,"yOffset":-15},"encoding":{}}
  ]}
 ]},
{"data":{"name":"c"},"transform":[{"filter":"datum.iso == 'qVOA'"}],
 "layer":[
 {"mark":{"type":"bar"},"encoding":{
   "x":{"field":"cat","type":"nominal","sort":null,"scale":{"type":"band","domain":["Read-through","Initiated","5'elongated","Unspliced/mid-transcribed","Distal transcribed","Polyadenylated","Multiply-spliced"],"range":[420,753],"paddingInner":0.261,"paddingOuter":0.144,"align":0.78},"axis":{"orient":"bottom","offset":-809.7,"ticks":false,"tickSize":0,"labelAngle":-45,"labelAlign":"right","labelBaseline":"middle","labelFontWeight":"bold","labelFontSize":11.5,"labelColor":"#222222","labelPadding":7,"labelOffset":4,"labelExpr":"datum.label == 'Unspliced/mid-transcribed' ? ['Unspliced/', 'mid-transcribed'] : datum.label","labelOverlap":false,"labelBound":false,"labelFlush":false,"labelLimit":0,"title":null,"domainColor":"#333333"}},
   "xOffset":{"field":"cond","type":"nominal","sort":null,"scale":{"type":"band","domain":["unstimulated d10","unstimulated d12","stimulated d12"],"paddingInner":0.3,"paddingOuter":0}},
   "y":{"field":"m","type":"quantitative","scale":{"type":"log","domain":[1,1000000000],"range":[473.3,293.3],"nice":false},"axis":null},
   "y2":{"datum":1},
   "fill":{"field":"cond","type":"nominal","sort":null,"scale":{"domain":["unstimulated d10","unstimulated d12","stimulated d12"],"range":["#ecd2e4","#dba0c8","#b23c8c"]}}}},
 {"mark":{"type":"rule","color":"#333333","strokeWidth":1.1},"encoding":{
   "x":{"field":"cat","type":"nominal","sort":null,"scale":{"type":"band","domain":["Read-through","Initiated","5'elongated","Unspliced/mid-transcribed","Distal transcribed","Polyadenylated","Multiply-spliced"],"range":[420,753],"paddingInner":0.261,"paddingOuter":0.144,"align":0.78}},
   "xOffset":{"field":"cond","type":"nominal","sort":null,"scale":{"type":"band","domain":["unstimulated d10","unstimulated d12","stimulated d12"],"paddingInner":0.3,"paddingOuter":0}},
   "y":{"field":"d1","type":"quantitative","scale":{"type":"log","domain":[1,1000000000],"range":[473.3,293.3],"nice":false},"axis":null},"y2":{"field":"d2"}}},
 {"transform":[{"fold":["d1","d2"],"as":["donor","v"]}],"mark":{"type":"point","filled":true,"size":30,"stroke":"#333333","strokeWidth":1,"opacity":1},"encoding":{
   "x":{"field":"cat","type":"nominal","sort":null,"scale":{"type":"band","domain":["Read-through","Initiated","5'elongated","Unspliced/mid-transcribed","Distal transcribed","Polyadenylated","Multiply-spliced"],"range":[420,753],"paddingInner":0.261,"paddingOuter":0.144,"align":0.78}},
   "xOffset":{"field":"cond","type":"nominal","sort":null,"scale":{"type":"band","domain":["unstimulated d10","unstimulated d12","stimulated d12"],"paddingInner":0.3,"paddingOuter":0}},
   "y":{"field":"v","type":"quantitative","scale":{"type":"log","domain":[1,1000000000],"range":[473.3,293.3],"nice":false},"axis":null},
   "fill":{"condition":{"test":"datum.donor == 'd1'","value":"#ffffff"},"value":"#8c8c8c"}}},
 {"transform":[{"filter":"isValid(datum.f)"},{"fold":["d1","d2"],"as":["donor","v"]},{"aggregate":[{"op":"max","field":"v","as":"hi"}],"groupby":["cat","f"]}],
  "encoding":{"x":{"field":"cat","type":"nominal","sort":null,"scale":{"type":"band","domain":["Read-through","Initiated","5'elongated","Unspliced/mid-transcribed","Distal transcribed","Polyadenylated","Multiply-spliced"],"range":[420,753],"paddingInner":0.261,"paddingOuter":0.144,"align":0.78}},"y":{"field":"hi","type":"quantitative","scale":{"type":"log","domain":[1,1000000000],"range":[473.3,293.3],"nice":false},"axis":null}},
  "layer":[
   {"mark":{"type":"text","dx":9,"dy":-36.5,"baseline":"alphabetic","fontSize":11.5,"color":"#222222"},"encoding":{"text":{"field":"f"}}},
   {"mark":{"type":"rule","x2Offset":12,"yOffset":-33,"color":"#222222","strokeWidth":1},"encoding":{"x2":{"field":"cat"}}},
   {"mark":{"type":"rule","yOffset":-33,"y2Offset":-21,"color":"#222222","strokeWidth":1},"encoding":{"y2":{"field":"hi"}}},
   {"mark":{"type":"point","shape":"M-0.95,-1L0.95,-1L0,1Z","size":144,"filled":true,"color":"#111111","opacity":1,"yOffset":-15},"encoding":{}}
  ]}
 ]},
{"layer":[
 {"data":{"values":[{"t":"D"}]},"mark":{"type":"text","fontSize":19,"color":"#222222","baseline":"middle","align":"center"},"encoding":{"x":{"datum":-10.15,"type":"quantitative","scale":{"type":"linear","domain":[0,100],"range":[89,753],"nice":false,"zero":false},"axis":null},"y":{"datum":114.4,"type":"quantitative","scale":{"type":"linear","domain":[0,100],"range":[835.7,656.7],"nice":false,"zero":false},"axis":null},"text":{"field":"t"}}},
 {"data":{"values":[{"t":"Average transcription per provirus"}]},"mark":{"type":"text","fontSize":13,"fontWeight":"bold","color":"#222222","baseline":"middle","align":"center"},"encoding":{"x":{"datum":50.6,"type":"quantitative","scale":{"type":"linear","domain":[0,100],"range":[89,753],"nice":false,"zero":false},"axis":null},"y":{"datum":118.0,"type":"quantitative","scale":{"type":"linear","domain":[0,100],"range":[835.7,656.7],"nice":false,"zero":false},"axis":null},"text":{"field":"t"}}},
 {"data":{"values":[{"t":"separator"}]},"mark":{"type":"rule","color":"#555555","strokeDash":[1,2],"strokeWidth":1},"encoding":{"x":{"datum":50.2,"type":"quantitative","scale":{"type":"linear","domain":[0,100],"range":[89,753],"nice":false,"zero":false},"axis":null},"y":{"datum":0,"type":"quantitative","scale":{"type":"linear","domain":[0,100],"range":[835.7,656.7],"nice":false,"zero":false},"axis":null},"y2":{"datum":100}}},
 {"data":{"values":[{"t":"NL 4.3"}]},"layer":[
  {"mark":{"type":"rule","color":"#333333","strokeWidth":1},"encoding":{"x":{"datum":-5.38,"type":"quantitative","scale":{"type":"linear","domain":[0,100],"range":[89,753],"nice":false,"zero":false},"axis":null},"x2":{"datum":42.06},"y":{"datum":-49.5,"type":"quantitative","scale":{"type":"linear","domain":[0,100],"range":[835.7,656.7],"nice":false,"zero":false},"axis":null}}},
  {"mark":{"type":"text","fontSize":12.5,"color":"#222222","baseline":"middle","align":"center"},"encoding":{"x":{"datum":15.96,"type":"quantitative","scale":{"type":"linear","domain":[0,100],"range":[89,753],"nice":false,"zero":false},"axis":null},"y":{"datum":-54.9,"type":"quantitative","scale":{"type":"linear","domain":[0,100],"range":[835.7,656.7],"nice":false,"zero":false},"axis":null},"text":{"field":"t"}}}
 ]},
 {"data":{"values":[{"t":"qVOA isolate"}]},"layer":[
  {"mark":{"type":"rule","color":"#333333","strokeWidth":1},"encoding":{"x":{"datum":45.83,"type":"quantitative","scale":{"type":"linear","domain":[0,100],"range":[89,753],"nice":false,"zero":false},"axis":null},"x2":{"datum":93.78},"y":{"datum":-49.5,"type":"quantitative","scale":{"type":"linear","domain":[0,100],"range":[835.7,656.7],"nice":false,"zero":false},"axis":null}}},
  {"mark":{"type":"text","fontSize":12.5,"color":"#222222","baseline":"middle","align":"center"},"encoding":{"x":{"datum":69.92,"type":"quantitative","scale":{"type":"linear","domain":[0,100],"range":[89,753],"nice":false,"zero":false},"axis":null},"y":{"datum":-55.5,"type":"quantitative","scale":{"type":"linear","domain":[0,100],"range":[835.7,656.7],"nice":false,"zero":false},"axis":null},"text":{"field":"t"}}}
 ]}
]},
{"data":{"name":"d"},"transform":[{"filter":"datum.iso == 'NL'"}],
 "layer":[
 {"mark":{"type":"bar","stroke":"#444444","strokeWidth":1},"encoding":{
   "x":{"field":"cat","type":"nominal","sort":null,"scale":{"type":"band","domain":["Read-through","Initiated","5'elongated","Unspliced/mid-transcribed","Distal transcribed","Polyadenylated","Multiply-spliced"],"range":[89,422],"paddingInner":0.266,"paddingOuter":0.198,"align":0.416},"axis":{"orient":"bottom","offset":-447.3,"ticks":false,"tickSize":0,"labelAngle":-45,"labelAlign":"right","labelBaseline":"middle","labelFontWeight":"bold","labelFontSize":11.5,"labelColor":"#222222","labelPadding":7,"labelOffset":4,"labelExpr":"datum.label == 'Unspliced/mid-transcribed' ? ['Unspliced/', 'mid-transcribed'] : datum.label","labelOverlap":false,"labelBound":false,"labelFlush":false,"labelLimit":0,"title":null,"domainColor":"#333333"}},
   "xOffset":{"field":"cond","type":"nominal","sort":null,"scale":{"type":"band","domain":["unstimulated d10","unstimulated d12","stimulated d12"],"paddingInner":0.35,"paddingOuter":0}},
   "y":{"field":"m","type":"quantitative","scale":{"type":"log","domain":[0.01,1000],"range":[835.7,656.7],"nice":false},"axis":{"orient":"left","offset":-89,"values":[0.01,0.02,0.03,0.04,0.05,0.06,0.07,0.08,0.09,0.1,0.2,0.3,0.4,0.5,0.6,0.7,0.8,0.9,1,2,3,4,5,6,7,8,9,10,20,30,40,50,60,70,80,90,100,200,300,400,500,600,700,800,900,1000],"labelExpr":"abs(log(datum.value)/LN10 - round(log(datum.value)/LN10)) > 0.01 ? '' : format(datum.value, '~g')","tickSize":{"condition":{"test":"abs(log(datum.value)/LN10 - round(log(datum.value)/LN10)) > 0.01","value":2},"value":4.5},"labelPadding":1.5,"labelFontSize":11.5,"labelOverlap":false,"labelBound":false,"labelFlush":false,"title":"HIV RNA/HIV DNA","titleFontSize":12.5,"titleFontWeight":"normal","titlePadding":8,"minExtent":32,"maxExtent":32}},
   "y2":{"datum":0.01},
   "fill":{"field":"cond","type":"nominal","sort":null,"scale":{"domain":["unstimulated d10","unstimulated d12","stimulated d12"],"range":["#ecd2e4","#dba0c8","#b23c8c"]}}}},
 {"mark":{"type":"rule","color":"#333333","strokeWidth":1.1},"encoding":{
   "x":{"field":"cat","type":"nominal","sort":null,"scale":{"type":"band","domain":["Read-through","Initiated","5'elongated","Unspliced/mid-transcribed","Distal transcribed","Polyadenylated","Multiply-spliced"],"range":[89,422],"paddingInner":0.266,"paddingOuter":0.198,"align":0.416}},
   "xOffset":{"field":"cond","type":"nominal","sort":null,"scale":{"type":"band","domain":["unstimulated d10","unstimulated d12","stimulated d12"],"paddingInner":0.35,"paddingOuter":0}},
   "y":{"field":"d1","type":"quantitative","scale":{"type":"log","domain":[0.01,1000],"range":[835.7,656.7],"nice":false}},"y2":{"field":"d2"}}},
 {"transform":[{"fold":["d1","d2"],"as":["donor","v"]}],"mark":{"type":"point","filled":true,"size":30,"stroke":"#333333","strokeWidth":1,"opacity":1},"encoding":{
   "x":{"field":"cat","type":"nominal","sort":null,"scale":{"type":"band","domain":["Read-through","Initiated","5'elongated","Unspliced/mid-transcribed","Distal transcribed","Polyadenylated","Multiply-spliced"],"range":[89,422],"paddingInner":0.266,"paddingOuter":0.198,"align":0.416}},
   "xOffset":{"field":"cond","type":"nominal","sort":null,"scale":{"type":"band","domain":["unstimulated d10","unstimulated d12","stimulated d12"],"paddingInner":0.35,"paddingOuter":0}},
   "y":{"field":"v","type":"quantitative","scale":{"type":"log","domain":[0.01,1000],"range":[835.7,656.7],"nice":false}},
   "fill":{"condition":{"test":"datum.donor == 'd1'","value":"#ffffff"},"value":"#8c8c8c"}}},
 {"transform":[{"filter":"isValid(datum.f)"},{"fold":["d1","d2"],"as":["donor","v"]},{"aggregate":[{"op":"max","field":"v","as":"hi"}],"groupby":["cat","f"]}],
  "encoding":{"x":{"field":"cat","type":"nominal","sort":null,"scale":{"type":"band","domain":["Read-through","Initiated","5'elongated","Unspliced/mid-transcribed","Distal transcribed","Polyadenylated","Multiply-spliced"],"range":[89,422],"paddingInner":0.266,"paddingOuter":0.198,"align":0.416}},"y":{"field":"hi","type":"quantitative","scale":{"type":"log","domain":[0.01,1000],"range":[835.7,656.7],"nice":false}}},
  "layer":[
   {"mark":{"type":"text","dx":9,"dy":-40,"baseline":"alphabetic","fontSize":11.5,"color":"#222222"},"encoding":{"text":{"field":"f"}}},
   {"mark":{"type":"rule","x2Offset":12,"yOffset":-37,"color":"#222222","strokeWidth":1},"encoding":{"x2":{"field":"cat"}}},
   {"mark":{"type":"rule","yOffset":-37,"y2Offset":-25,"color":"#222222","strokeWidth":1},"encoding":{"y2":{"field":"hi"}}},
   {"mark":{"type":"point","shape":"M-0.82,-1L0.82,-1L0,1Z","size":121,"filled":true,"color":"#111111","opacity":1,"yOffset":-19.5},"encoding":{}}
  ]}
 ]},
{"data":{"name":"d"},"transform":[{"filter":"datum.iso == 'qVOA'"}],
 "layer":[
 {"mark":{"type":"bar"},"encoding":{
   "x":{"field":"cat","type":"nominal","sort":null,"scale":{"type":"band","domain":["Read-through","Initiated","5'elongated","Unspliced/mid-transcribed","Distal transcribed","Polyadenylated","Multiply-spliced"],"range":[422,753],"paddingInner":0.292,"paddingOuter":0.164,"align":0.695},"axis":{"orient":"bottom","offset":-447.3,"ticks":false,"tickSize":0,"labelAngle":-45,"labelAlign":"right","labelBaseline":"middle","labelFontWeight":"bold","labelFontSize":11.5,"labelColor":"#222222","labelPadding":7,"labelOffset":4,"labelExpr":"datum.label == 'Unspliced/mid-transcribed' ? ['Unspliced/', 'mid-transcribed'] : datum.label","labelOverlap":false,"labelBound":false,"labelFlush":false,"labelLimit":0,"title":null,"domainColor":"#333333"}},
   "xOffset":{"field":"cond","type":"nominal","sort":null,"scale":{"type":"band","domain":["unstimulated d10","unstimulated d12","stimulated d12"],"paddingInner":0.35,"paddingOuter":0}},
   "y":{"field":"m","type":"quantitative","scale":{"type":"log","domain":[0.01,1000],"range":[835.7,656.7],"nice":false},"axis":null},
   "y2":{"datum":0.01},
   "fill":{"field":"cond","type":"nominal","sort":null,"scale":{"domain":["unstimulated d10","unstimulated d12","stimulated d12"],"range":["#ecd2e4","#dba0c8","#b23c8c"]}}}},
 {"mark":{"type":"rule","color":"#333333","strokeWidth":1.1},"encoding":{
   "x":{"field":"cat","type":"nominal","sort":null,"scale":{"type":"band","domain":["Read-through","Initiated","5'elongated","Unspliced/mid-transcribed","Distal transcribed","Polyadenylated","Multiply-spliced"],"range":[422,753],"paddingInner":0.292,"paddingOuter":0.164,"align":0.695}},
   "xOffset":{"field":"cond","type":"nominal","sort":null,"scale":{"type":"band","domain":["unstimulated d10","unstimulated d12","stimulated d12"],"paddingInner":0.35,"paddingOuter":0}},
   "y":{"field":"d1","type":"quantitative","scale":{"type":"log","domain":[0.01,1000],"range":[835.7,656.7],"nice":false},"axis":null},"y2":{"field":"d2"}}},
 {"transform":[{"fold":["d1","d2"],"as":["donor","v"]}],"mark":{"type":"point","filled":true,"size":30,"stroke":"#333333","strokeWidth":1,"opacity":1},"encoding":{
   "x":{"field":"cat","type":"nominal","sort":null,"scale":{"type":"band","domain":["Read-through","Initiated","5'elongated","Unspliced/mid-transcribed","Distal transcribed","Polyadenylated","Multiply-spliced"],"range":[422,753],"paddingInner":0.292,"paddingOuter":0.164,"align":0.695}},
   "xOffset":{"field":"cond","type":"nominal","sort":null,"scale":{"type":"band","domain":["unstimulated d10","unstimulated d12","stimulated d12"],"paddingInner":0.35,"paddingOuter":0}},
   "y":{"field":"v","type":"quantitative","scale":{"type":"log","domain":[0.01,1000],"range":[835.7,656.7],"nice":false},"axis":null},
   "fill":{"condition":{"test":"datum.donor == 'd1'","value":"#ffffff"},"value":"#8c8c8c"}}},
 {"transform":[{"filter":"isValid(datum.f)"},{"fold":["d1","d2"],"as":["donor","v"]},{"aggregate":[{"op":"max","field":"v","as":"hi"}],"groupby":["cat","f"]}],
  "encoding":{"x":{"field":"cat","type":"nominal","sort":null,"scale":{"type":"band","domain":["Read-through","Initiated","5'elongated","Unspliced/mid-transcribed","Distal transcribed","Polyadenylated","Multiply-spliced"],"range":[422,753],"paddingInner":0.292,"paddingOuter":0.164,"align":0.695}},"y":{"field":"hi","type":"quantitative","scale":{"type":"log","domain":[0.01,1000],"range":[835.7,656.7],"nice":false},"axis":null}},
  "layer":[
   {"mark":{"type":"text","dx":9,"dy":-34,"baseline":"alphabetic","fontSize":11.5,"color":"#222222"},"encoding":{"text":{"field":"f"}}},
   {"mark":{"type":"rule","x2Offset":12,"yOffset":-31,"color":"#222222","strokeWidth":1},"encoding":{"x2":{"field":"cat"}}},
   {"mark":{"type":"rule","yOffset":-31,"y2Offset":-20,"color":"#222222","strokeWidth":1},"encoding":{"y2":{"field":"hi"}}},
   {"mark":{"type":"point","shape":"M-0.82,-1L0.82,-1L0,1Z","size":121,"filled":true,"color":"#111111","opacity":1,"yOffset":-14.5},"encoding":{}}
  ]}
 ]},
{"layer":[
 {"data":{"values":[{"t":"E"}]},"mark":{"type":"text","fontSize":19,"color":"#222222","baseline":"middle","align":"center"},"encoding":{"x":{"datum":-12.07,"type":"quantitative","scale":{"type":"linear","domain":[0,100],"range":[99,736.7],"nice":false,"zero":false},"axis":null},"y":{"datum":111.45,"type":"quantitative","scale":{"type":"linear","domain":[0,100],"range":[1171.7,984],"nice":false,"zero":false},"axis":null},"text":{"field":"t"}}},
 {"data":{"values":[{"t":"Progression through HIV transcription stages"}]},"mark":{"type":"text","fontSize":13,"fontWeight":"bold","color":"#222222","baseline":"middle","align":"center"},"encoding":{"x":{"datum":50,"type":"quantitative","scale":{"type":"linear","domain":[0,100],"range":[99,736.7],"nice":false,"zero":false},"axis":null},"y":{"datum":110.1,"type":"quantitative","scale":{"type":"linear","domain":[0,100],"range":[1171.7,984],"nice":false,"zero":false},"axis":null},"text":{"field":"t"}}},
 {"data":{"values":[{"t":"HIV RNA Ratios"}]},"mark":{"type":"text","fontSize":12.5,"color":"#222222","baseline":"middle","align":"center","angle":270},"encoding":{"x":{"datum":-8.73,"type":"quantitative","scale":{"type":"linear","domain":[0,100],"range":[99,736.7],"nice":false,"zero":false},"axis":null},"y":{"datum":47.5,"type":"quantitative","scale":{"type":"linear","domain":[0,100],"range":[1171.7,984],"nice":false,"zero":false},"axis":null},"text":{"field":"t"}}},
 {"data":{"values":[{"t":"separator"}]},"mark":{"type":"rule","color":"#555555","strokeDash":[1,2],"strokeWidth":1},"encoding":{"x":{"datum":49.82,"type":"quantitative","scale":{"type":"linear","domain":[0,100],"range":[99,736.7],"nice":false,"zero":false},"axis":null},"y":{"datum":0,"type":"quantitative","scale":{"type":"linear","domain":[0,100],"range":[1171.7,984],"nice":false,"zero":false},"axis":null},"y2":{"datum":100}}},
 {"data":{"values":[{"t":"ratio 1.0"}]},"mark":{"type":"rule","color":"#888888","strokeDash":[3,2],"strokeWidth":0.8},"encoding":{"x":{"datum":0,"type":"quantitative","scale":{"type":"linear","domain":[0,100],"range":[99,736.7],"nice":false,"zero":false},"axis":null},"x2":{"datum":100},"y":{"datum":71.66,"type":"quantitative","scale":{"type":"linear","domain":[0,100],"range":[1171.7,984],"nice":false,"zero":false},"axis":null}}},
 {"data":{"values":[{"t":"break"}]},"mark":{"type":"point","shape":"M-1,1L1,-1","size":36,"filled":false,"stroke":"#333333","strokeWidth":1,"opacity":1},"encoding":{"x":{"datum":0.39,"type":"quantitative","scale":{"type":"linear","domain":[0,100],"range":[99,736.7],"nice":false,"zero":false},"axis":null},"y":{"datum":37.93,"type":"quantitative","scale":{"type":"linear","domain":[0,100],"range":[1171.7,984],"nice":false,"zero":false},"axis":null}}},
 {"data":{"values":[{"t":"break"}]},"mark":{"type":"point","shape":"M-1,1L1,-1","size":36,"filled":false,"stroke":"#333333","strokeWidth":1,"opacity":1},"encoding":{"x":{"datum":0.39,"type":"quantitative","scale":{"type":"linear","domain":[0,100],"range":[99,736.7],"nice":false,"zero":false},"axis":null},"y":{"datum":28.34,"type":"quantitative","scale":{"type":"linear","domain":[0,100],"range":[1171.7,984],"nice":false,"zero":false},"axis":null}}},
 {"data":{"values":[{"t":"NL 4.3"}]},"layer":[
  {"mark":{"type":"rule","color":"#333333","strokeWidth":1},"encoding":{"x":{"datum":-3.25,"type":"quantitative","scale":{"type":"linear","domain":[0,100],"range":[99,736.7],"nice":false,"zero":false},"axis":null},"x2":{"datum":41.98},"y":{"datum":-48.8,"type":"quantitative","scale":{"type":"linear","domain":[0,100],"range":[1171.7,984],"nice":false,"zero":false},"axis":null}}},
  {"mark":{"type":"text","fontSize":12.5,"color":"#222222","baseline":"middle","align":"center"},"encoding":{"x":{"datum":18.71,"type":"quantitative","scale":{"type":"linear","domain":[0,100],"range":[99,736.7],"nice":false,"zero":false},"axis":null},"y":{"datum":-54.66,"type":"quantitative","scale":{"type":"linear","domain":[0,100],"range":[1171.7,984],"nice":false,"zero":false},"axis":null},"text":{"field":"t"}}}
 ]},
 {"data":{"values":[{"t":"qVOA isolate"}]},"layer":[
  {"mark":{"type":"rule","color":"#333333","strokeWidth":1},"encoding":{"x":{"datum":47.62,"type":"quantitative","scale":{"type":"linear","domain":[0,100],"range":[99,736.7],"nice":false,"zero":false},"axis":null},"x2":{"datum":94.36},"y":{"datum":-48.8,"type":"quantitative","scale":{"type":"linear","domain":[0,100],"range":[1171.7,984],"nice":false,"zero":false},"axis":null}}},
  {"mark":{"type":"text","fontSize":12.5,"color":"#222222","baseline":"middle","align":"center"},"encoding":{"x":{"datum":69.67,"type":"quantitative","scale":{"type":"linear","domain":[0,100],"range":[99,736.7],"nice":false,"zero":false},"axis":null},"y":{"datum":-54.66,"type":"quantitative","scale":{"type":"linear","domain":[0,100],"range":[1171.7,984],"nice":false,"zero":false},"axis":null},"text":{"field":"t"}}}
 ]}
]},
{"data":{"name":"e"},"transform":[{"filter":"datum.iso == 'NL' && datum.cat != 'Multiple splicing'"}],
 "layer":[
 {"mark":{"type":"bar","stroke":"#444444","strokeWidth":1},"encoding":{
   "x":{"field":"cat","type":"nominal","sort":null,"scale":{"type":"band","domain":["Elongation","Mid-transcription","Distal transcription","Completion","Multiple splicing"],"range":[99,416.7],"paddingInner":0.285,"paddingOuter":0.168,"align":0.284},"axis":null},
   "xOffset":{"field":"cond","type":"nominal","sort":null,"scale":{"type":"band","domain":["unstimulated d10","unstimulated d12","stimulated d12"],"paddingInner":0.35,"paddingOuter":0}},
   "y":{"field":"m","type":"quantitative","scale":{"type":"linear","domain":[0.21,1.7],"range":[1097.3,984],"nice":false,"zero":false},"axis":{"orient":"left","offset":-99,"values":[0.5,1,1.5],"format":".1f","tickSize":4.5,"labelPadding":2,"labelFontSize":12,"labelOverlap":false,"labelBound":false,"labelFlush":false,"title":null}},
   "y2":{"datum":0.1},
   "fill":{"field":"cond","type":"nominal","sort":null,"scale":{"domain":["unstimulated d10","unstimulated d12","stimulated d12"],"range":["#ecd2e4","#dba0c8","#b23c8c"]}}}},
 {"mark":{"type":"rule","color":"#333333","strokeWidth":1.1},"encoding":{
   "x":{"field":"cat","type":"nominal","sort":null,"scale":{"type":"band","domain":["Elongation","Mid-transcription","Distal transcription","Completion","Multiple splicing"],"range":[99,416.7],"paddingInner":0.285,"paddingOuter":0.168,"align":0.284},"axis":null},
   "xOffset":{"field":"cond","type":"nominal","sort":null,"scale":{"type":"band","domain":["unstimulated d10","unstimulated d12","stimulated d12"],"paddingInner":0.35,"paddingOuter":0}},
   "y":{"field":"d1","type":"quantitative","scale":{"type":"linear","domain":[0.21,1.7],"range":[1097.3,984],"nice":false,"zero":false}},"y2":{"field":"d2"}}},
 {"transform":[{"fold":["d1","d2"],"as":["donor","v"]}],"mark":{"type":"point","filled":true,"size":30,"stroke":"#333333","strokeWidth":1,"opacity":1},"encoding":{
   "x":{"field":"cat","type":"nominal","sort":null,"scale":{"type":"band","domain":["Elongation","Mid-transcription","Distal transcription","Completion","Multiple splicing"],"range":[99,416.7],"paddingInner":0.285,"paddingOuter":0.168,"align":0.284},"axis":null},
   "xOffset":{"field":"cond","type":"nominal","sort":null,"scale":{"type":"band","domain":["unstimulated d10","unstimulated d12","stimulated d12"],"paddingInner":0.35,"paddingOuter":0}},
   "y":{"field":"v","type":"quantitative","scale":{"type":"linear","domain":[0.21,1.7],"range":[1097.3,984],"nice":false,"zero":false}},
   "fill":{"condition":{"test":"datum.donor == 'd1'","value":"#ffffff"},"value":"#8c8c8c"}}}
 ]},
{"data":{"name":"e"},"transform":[{"filter":"datum.iso == 'NL'"}],
 "layer":[
 {"transform":[{"filter":"datum.cat == 'Multiple splicing'"}],"mark":{"type":"bar","stroke":"#444444","strokeWidth":1},"encoding":{
   "x":{"field":"cat","type":"nominal","sort":null,"scale":{"type":"band","domain":["Elongation","Mid-transcription","Distal transcription","Completion","Multiple splicing"],"range":[99,416.7],"paddingInner":0.285,"paddingOuter":0.168,"align":0.284},"axis":{"orient":"bottom","offset":-111.3,"ticks":false,"tickSize":0,"labelAngle":-45,"labelAlign":"right","labelBaseline":"middle","labelFontWeight":"bold","labelFontSize":10.5,"labelColor":"#222222","labelPadding":9,"labelOffset":0,"labelOverlap":false,"labelBound":false,"labelFlush":false,"labelLimit":0,"title":null,"domainColor":"#333333"}},
   "xOffset":{"field":"cond","type":"nominal","sort":null,"scale":{"type":"band","domain":["unstimulated d10","unstimulated d12","stimulated d12"],"paddingInner":0.35,"paddingOuter":0}},
   "y":{"field":"m","type":"quantitative","scale":{"type":"linear","domain":[0,0.1],"range":[1171.7,1120],"nice":false,"zero":false},"axis":{"orient":"left","offset":-99,"values":[0,0.1],"format":".1f","tickSize":4.5,"labelPadding":2,"labelFontSize":12,"labelOverlap":false,"labelBound":false,"labelFlush":false,"title":null}},
   "y2":{"datum":0},
   "fill":{"field":"cond","type":"nominal","sort":null,"scale":{"domain":["unstimulated d10","unstimulated d12","stimulated d12"],"range":["#ecd2e4","#dba0c8","#b23c8c"]}}}},
 {"transform":[{"filter":"datum.cat != 'Multiple splicing'"}],"mark":{"type":"bar","stroke":"#444444","strokeWidth":1},"encoding":{
   "x":{"field":"cat","type":"nominal","sort":null,"scale":{"type":"band","domain":["Elongation","Mid-transcription","Distal transcription","Completion","Multiple splicing"],"range":[99,416.7],"paddingInner":0.285,"paddingOuter":0.168,"align":0.284}},
   "xOffset":{"field":"cond","type":"nominal","sort":null,"scale":{"type":"band","domain":["unstimulated d10","unstimulated d12","stimulated d12"],"paddingInner":0.35,"paddingOuter":0}},
   "y":{"datum":0.1,"type":"quantitative","scale":{"type":"linear","domain":[0,0.1],"range":[1171.7,1120],"nice":false,"zero":false}},
   "y2":{"datum":0},
   "fill":{"field":"cond","type":"nominal","sort":null,"scale":{"domain":["unstimulated d10","unstimulated d12","stimulated d12"],"range":["#ecd2e4","#dba0c8","#b23c8c"]}}}},
 {"transform":[{"filter":"datum.cat == 'Multiple splicing'"}],"mark":{"type":"rule","color":"#333333","strokeWidth":1.1},"encoding":{
   "x":{"field":"cat","type":"nominal","sort":null,"scale":{"type":"band","domain":["Elongation","Mid-transcription","Distal transcription","Completion","Multiple splicing"],"range":[99,416.7],"paddingInner":0.285,"paddingOuter":0.168,"align":0.284}},
   "xOffset":{"field":"cond","type":"nominal","sort":null,"scale":{"type":"band","domain":["unstimulated d10","unstimulated d12","stimulated d12"],"paddingInner":0.35,"paddingOuter":0}},
   "y":{"field":"d1","type":"quantitative","scale":{"type":"linear","domain":[0,0.1],"range":[1171.7,1120],"nice":false,"zero":false}},"y2":{"field":"d2"}}},
 {"transform":[{"filter":"isValid(datum.f)"},{"fold":["d1","d2"],"as":["donor","v"]},{"aggregate":[{"op":"max","field":"v","as":"hi"}],"groupby":["cat","f"]}],
  "encoding":{"x":{"field":"cat","type":"nominal","sort":null,"scale":{"type":"band","domain":["Elongation","Mid-transcription","Distal transcription","Completion","Multiple splicing"],"range":[99,416.7],"paddingInner":0.285,"paddingOuter":0.168,"align":0.284}},"y":{"field":"hi","type":"quantitative","scale":{"type":"linear","domain":[0,0.1],"range":[1171.7,1120],"nice":false,"zero":false}}},
  "layer":[
   {"mark":{"type":"text","dx":9,"dy":-64,"baseline":"alphabetic","fontSize":11.5,"color":"#222222"},"encoding":{"text":{"field":"f"}}},
   {"mark":{"type":"rule","x2Offset":12,"yOffset":-61.4,"color":"#222222","strokeWidth":1},"encoding":{"x2":{"field":"cat"}}},
   {"mark":{"type":"rule","yOffset":-61.4,"y2Offset":-49,"color":"#222222","strokeWidth":1},"encoding":{"y2":{"field":"hi"}}},
   {"mark":{"type":"point","shape":"M-0.95,-1L0.95,-1L0,1Z","size":144,"filled":true,"color":"#111111","opacity":1,"yOffset":-43},"encoding":{}}
  ]}
 ]},
{"data":{"name":"e"},"transform":[{"filter":"datum.iso == 'NL' && datum.cat == 'Multiple splicing'"},{"fold":["d1","d2"],"as":["donor","v"]}],
 "mark":{"type":"point","filled":true,"size":30,"stroke":"#333333","strokeWidth":1,"opacity":1},
 "encoding":{
   "x":{"field":"cat","type":"nominal","sort":null,"scale":{"type":"band","domain":["Elongation","Mid-transcription","Distal transcription","Completion","Multiple splicing"],"range":[99,416.7],"paddingInner":0.285,"paddingOuter":0.168,"align":0.284},"axis":{"orient":"bottom","offset":-111.3,"domain":false,"ticks":false,"tickSize":0,"labelAngle":-45,"labelAlign":"right","labelBaseline":"middle","labelFontSize":10.5,"labelColor":"#222222","labelPadding":16,"labelOffset":22,"labelExpr":"datum.label == 'Elongation' ? '(R-preGag/TAR)' : datum.label == 'Mid-transcription' ? '(Pol/R-preGag)' : datum.label == 'Distal transcription' ? '(Nef/R-preGag)' : datum.label == 'Completion' ? '(PolyA/R-preGag)' : '(Tat-Rev/PolyA)'","labelOverlap":false,"labelBound":false,"labelFlush":false,"labelLimit":0,"title":null}},
   "xOffset":{"field":"cond","type":"nominal","sort":null,"scale":{"type":"band","domain":["unstimulated d10","unstimulated d12","stimulated d12"],"paddingInner":0.35,"paddingOuter":0}},
   "y":{"field":"v","type":"quantitative","scale":{"type":"linear","domain":[0,0.1],"range":[1171.7,1120],"nice":false,"zero":false},"axis":null},
   "fill":{"condition":{"test":"datum.donor == 'd1'","value":"#ffffff"},"value":"#8c8c8c"}}},
{"data":{"name":"e"},"transform":[{"filter":"datum.iso == 'qVOA' && datum.cat != 'Multiple splicing'"}],
 "layer":[
 {"mark":{"type":"bar"},"encoding":{
   "x":{"field":"cat","type":"nominal","sort":null,"scale":{"type":"band","domain":["Elongation","Mid-transcription","Distal transcription","Completion","Multiple splicing"],"range":[416.7,736.7],"paddingInner":0.276,"paddingOuter":0.174,"align":0.653},"axis":null},
   "xOffset":{"field":"cond","type":"nominal","sort":null,"scale":{"type":"band","domain":["unstimulated d10","unstimulated d12","stimulated d12"],"paddingInner":0.35,"paddingOuter":0}},
   "y":{"field":"m","type":"quantitative","scale":{"type":"linear","domain":[0.21,1.7],"range":[1097.3,984],"nice":false,"zero":false},"axis":null},
   "y2":{"datum":0.1},
   "fill":{"field":"cond","type":"nominal","sort":null,"scale":{"domain":["unstimulated d10","unstimulated d12","stimulated d12"],"range":["#ecd2e4","#dba0c8","#b23c8c"]}}}},
 {"mark":{"type":"rule","color":"#333333","strokeWidth":1.1},"encoding":{
   "x":{"field":"cat","type":"nominal","sort":null,"scale":{"type":"band","domain":["Elongation","Mid-transcription","Distal transcription","Completion","Multiple splicing"],"range":[416.7,736.7],"paddingInner":0.276,"paddingOuter":0.174,"align":0.653},"axis":null},
   "xOffset":{"field":"cond","type":"nominal","sort":null,"scale":{"type":"band","domain":["unstimulated d10","unstimulated d12","stimulated d12"],"paddingInner":0.35,"paddingOuter":0}},
   "y":{"field":"d1","type":"quantitative","scale":{"type":"linear","domain":[0.21,1.7],"range":[1097.3,984],"nice":false,"zero":false},"axis":null},"y2":{"field":"d2"}}},
 {"transform":[{"fold":["d1","d2"],"as":["donor","v"]}],"mark":{"type":"point","filled":true,"size":30,"stroke":"#333333","strokeWidth":1,"opacity":1},"encoding":{
   "x":{"field":"cat","type":"nominal","sort":null,"scale":{"type":"band","domain":["Elongation","Mid-transcription","Distal transcription","Completion","Multiple splicing"],"range":[416.7,736.7],"paddingInner":0.276,"paddingOuter":0.174,"align":0.653},"axis":null},
   "xOffset":{"field":"cond","type":"nominal","sort":null,"scale":{"type":"band","domain":["unstimulated d10","unstimulated d12","stimulated d12"],"paddingInner":0.35,"paddingOuter":0}},
   "y":{"field":"v","type":"quantitative","scale":{"type":"linear","domain":[0.21,1.7],"range":[1097.3,984],"nice":false,"zero":false},"axis":null},
   "fill":{"condition":{"test":"datum.donor == 'd1'","value":"#ffffff"},"value":"#8c8c8c"}}}
 ]},
{"data":{"name":"e"},"transform":[{"filter":"datum.iso == 'qVOA'"}],
 "layer":[
 {"transform":[{"filter":"datum.cat == 'Multiple splicing'"}],"mark":{"type":"bar"},"encoding":{
   "x":{"field":"cat","type":"nominal","sort":null,"scale":{"type":"band","domain":["Elongation","Mid-transcription","Distal transcription","Completion","Multiple splicing"],"range":[416.7,736.7],"paddingInner":0.276,"paddingOuter":0.174,"align":0.653},"axis":{"orient":"bottom","offset":-111.3,"ticks":false,"tickSize":0,"labelAngle":-45,"labelAlign":"right","labelBaseline":"middle","labelFontWeight":"bold","labelFontSize":10.5,"labelColor":"#222222","labelPadding":9,"labelOffset":0,"labelOverlap":false,"labelBound":false,"labelFlush":false,"labelLimit":0,"title":null,"domainColor":"#333333"}},
   "xOffset":{"field":"cond","type":"nominal","sort":null,"scale":{"type":"band","domain":["unstimulated d10","unstimulated d12","stimulated d12"],"paddingInner":0.35,"paddingOuter":0}},
   "y":{"field":"m","type":"quantitative","scale":{"type":"linear","domain":[0,0.1],"range":[1171.7,1120],"nice":false,"zero":false},"axis":null},
   "y2":{"datum":0},
   "fill":{"field":"cond","type":"nominal","sort":null,"scale":{"domain":["unstimulated d10","unstimulated d12","stimulated d12"],"range":["#ecd2e4","#dba0c8","#b23c8c"]}}}},
 {"transform":[{"filter":"datum.cat != 'Multiple splicing'"}],"mark":{"type":"bar"},"encoding":{
   "x":{"field":"cat","type":"nominal","sort":null,"scale":{"type":"band","domain":["Elongation","Mid-transcription","Distal transcription","Completion","Multiple splicing"],"range":[416.7,736.7],"paddingInner":0.276,"paddingOuter":0.174,"align":0.653}},
   "xOffset":{"field":"cond","type":"nominal","sort":null,"scale":{"type":"band","domain":["unstimulated d10","unstimulated d12","stimulated d12"],"paddingInner":0.35,"paddingOuter":0}},
   "y":{"datum":0.1,"type":"quantitative","scale":{"type":"linear","domain":[0,0.1],"range":[1171.7,1120],"nice":false,"zero":false},"axis":null},
   "y2":{"datum":0},
   "fill":{"field":"cond","type":"nominal","sort":null,"scale":{"domain":["unstimulated d10","unstimulated d12","stimulated d12"],"range":["#ecd2e4","#dba0c8","#b23c8c"]}}}},
 {"transform":[{"filter":"datum.cat == 'Multiple splicing'"}],"mark":{"type":"rule","color":"#333333","strokeWidth":1.1},"encoding":{
   "x":{"field":"cat","type":"nominal","sort":null,"scale":{"type":"band","domain":["Elongation","Mid-transcription","Distal transcription","Completion","Multiple splicing"],"range":[416.7,736.7],"paddingInner":0.276,"paddingOuter":0.174,"align":0.653}},
   "xOffset":{"field":"cond","type":"nominal","sort":null,"scale":{"type":"band","domain":["unstimulated d10","unstimulated d12","stimulated d12"],"paddingInner":0.35,"paddingOuter":0}},
   "y":{"field":"d1","type":"quantitative","scale":{"type":"linear","domain":[0,0.1],"range":[1171.7,1120],"nice":false,"zero":false},"axis":null},"y2":{"field":"d2"}}},
 {"transform":[{"filter":"isValid(datum.f)"},{"fold":["d1","d2"],"as":["donor","v"]},{"aggregate":[{"op":"max","field":"v","as":"hi"}],"groupby":["cat","f"]}],
  "encoding":{"x":{"field":"cat","type":"nominal","sort":null,"scale":{"type":"band","domain":["Elongation","Mid-transcription","Distal transcription","Completion","Multiple splicing"],"range":[416.7,736.7],"paddingInner":0.276,"paddingOuter":0.174,"align":0.653}},"y":{"field":"hi","type":"quantitative","scale":{"type":"linear","domain":[0,0.1],"range":[1171.7,1120],"nice":false,"zero":false},"axis":null}},
  "layer":[
   {"mark":{"type":"text","dx":9,"dy":-41,"baseline":"alphabetic","fontSize":11.5,"color":"#222222"},"encoding":{"text":{"field":"f"}}},
   {"mark":{"type":"rule","x2Offset":12,"yOffset":-39,"color":"#222222","strokeWidth":1},"encoding":{"x2":{"field":"cat"}}},
   {"mark":{"type":"rule","yOffset":-39,"y2Offset":-24,"color":"#222222","strokeWidth":1},"encoding":{"y2":{"field":"hi"}}},
   {"mark":{"type":"point","shape":"M-0.95,-1L0.95,-1L0,1Z","size":144,"filled":true,"color":"#111111","opacity":1,"yOffset":-18},"encoding":{}}
  ]}
 ]},
{"data":{"name":"e"},"transform":[{"filter":"datum.iso == 'qVOA' && datum.cat == 'Multiple splicing'"},{"fold":["d1","d2"],"as":["donor","v"]}],
 "mark":{"type":"point","filled":true,"size":30,"stroke":"#333333","strokeWidth":1,"opacity":1},
 "encoding":{
   "x":{"field":"cat","type":"nominal","sort":null,"scale":{"type":"band","domain":["Elongation","Mid-transcription","Distal transcription","Completion","Multiple splicing"],"range":[416.7,736.7],"paddingInner":0.276,"paddingOuter":0.174,"align":0.653},"axis":{"orient":"bottom","offset":-111.3,"domain":false,"ticks":false,"tickSize":0,"labelAngle":-45,"labelAlign":"right","labelBaseline":"middle","labelFontSize":10.5,"labelColor":"#222222","labelPadding":16,"labelOffset":22,"labelExpr":"datum.label == 'Elongation' ? '(R-preGag/TAR)' : datum.label == 'Mid-transcription' ? '(Pol/R-preGag)' : datum.label == 'Distal transcription' ? '(Nef/R-preGag)' : datum.label == 'Completion' ? '(PolyA/R-preGag)' : '(Tat-Rev/PolyA)'","labelOverlap":false,"labelBound":false,"labelFlush":false,"labelLimit":0,"title":null}},
   "xOffset":{"field":"cond","type":"nominal","sort":null,"scale":{"type":"band","domain":["unstimulated d10","unstimulated d12","stimulated d12"],"paddingInner":0.35,"paddingOuter":0}},
   "y":{"field":"v","type":"quantitative","scale":{"type":"linear","domain":[0,0.1],"range":[1171.7,1120],"nice":false,"zero":false},"axis":null},
   "fill":{"condition":{"test":"datum.donor == 'd1'","value":"#ffffff"},"value":"#8c8c8c"}}}
]
}
